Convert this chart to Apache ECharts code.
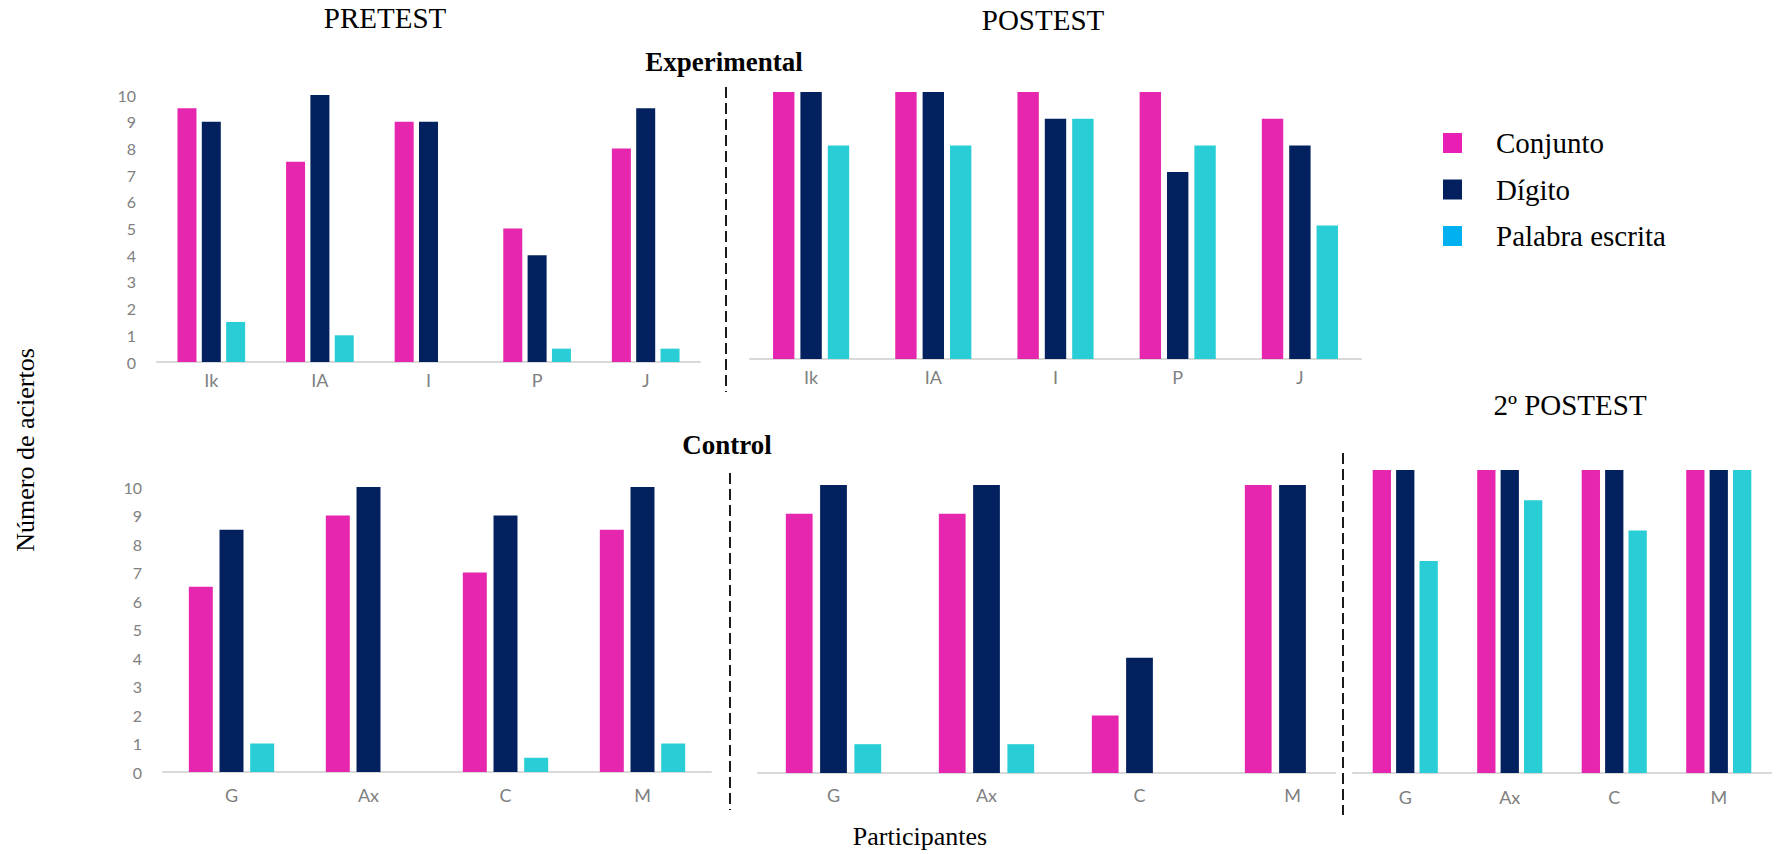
<!DOCTYPE html>
<html>
<head>
<meta charset="utf-8">
<script src="https://cdn.jsdelivr.net/npm/echarts@6/dist/echarts.min.js"></script>
<style>
html,body{margin:0;padding:0;background:#fff;}
#c{width:1783px;height:854px;}
</style>
</head>
<body>
<div id="c"></div>
<script>
// ---- data ----
const seriesNames = ['Conjunto', 'Dígito', 'Palabra escrita'];
const expCategories = ['Ik', 'IA', 'I', 'P', 'J'];
const ctlCategories = ['G', 'Ax', 'C', 'M'];

const preExpConjunto = [9.5, 7.5, 9, 5, 8];
const preExpDigito   = [9, 10, 9, 4, 9.5];
const preExpPalabra  = [1.5, 1, 0, 0.5, 0.5];

const postExpConjunto = [10, 10, 10, 10, 9];
const postExpDigito   = [10, 10, 9, 7, 8];
const postExpPalabra  = [8, 8, 9, 8, 5];

const preCtlConjunto = [6.5, 9, 7, 8.5];
const preCtlDigito   = [8.5, 10, 9, 10];
const preCtlPalabra  = [1, 0, 0.5, 1];

const postCtlConjunto = [9, 9, 2, 10];
const postCtlDigito   = [10, 10, 4, 10];
const postCtlPalabra  = [1, 1, 0, 0];

const post2CtlConjunto = [10, 10, 10, 10];
const post2CtlDigito   = [10, 10, 10, 10];
const post2CtlPalabra  = [7, 9, 8, 10];

// ---- styles ----
const colors = ['#E626AE', '#03205F', '#28CDD6'];
const legendColors = ['#E91EB4', '#031F5E', '#00B0F0'];
const serif = '"Liberation Serif", "Times New Roman", serif';
const sans = 'Lato, "Open Sans", sans-serif';

const grids = [
  {left: 157, top: 95, width: 543, height: 267},
  {left: 750, top: 92, width: 611, height: 267},
  {left: 163, top: 487, width: 548, height: 285},
  {left: 757, top: 485, width: 612, height: 288},
  {left: 1353, top: 470, width: 418, height: 303}
];
const panelCats = [expCategories, expCategories, ctlCategories, ctlCategories, ctlCategories];
const labelMargins = [10, 10, 15, 14, 16];
const showYLabels = [true, false, true, false, false];
const panelData = [
  [preExpConjunto, preExpDigito, preExpPalabra],
  [postExpConjunto, postExpDigito, postExpPalabra],
  [preCtlConjunto, preCtlDigito, preCtlPalabra],
  [postCtlConjunto, postCtlDigito, postCtlPalabra],
  [post2CtlConjunto, post2CtlDigito, post2CtlPalabra]
];

const xAxes = grids.map((g, i) => ({
  type: 'category',
  gridIndex: i,
  data: panelCats[i],
  axisLine: {show: i !== 3, lineStyle: {color: '#D9D9D9', width: 2}},
  axisTick: {show: false},
  axisLabel: {color: '#808080', fontFamily: sans, fontSize: 18, margin: labelMargins[i] - 1}
}));
const yAxes = grids.map((g, i) => ({
  type: 'value',
  gridIndex: i,
  min: 0, max: 10, interval: 1,
  axisLine: {show: false},
  axisTick: {show: false},
  splitLine: {show: false},
  axisLabel: {show: showYLabels[i], color: '#808080', fontFamily: sans, fontSize: 16, margin: 21}
}));

const series = [];
panelData.forEach((arrs, p) => {
  arrs.forEach((vals, s) => {
    series.push({
      type: 'bar',
      name: seriesNames[s],
      xAxisIndex: p,
      yAxisIndex: p,
      data: vals,
      barWidth: '17.5%',
      barGap: '28%',
      itemStyle: {color: colors[s]},
      emphasis: {disabled: true}
    });
  });
});

const dash = {stroke: '#1a1a1a', lineWidth: 2, lineDash: [11, 5]};
const txt = (text, x, y, size, bold, extra) => Object.assign({
  type: 'text', x: x, y: y,
  style: {text: text, fill: '#000', font: (bold ? 'bold ' : '') + size + 'px ' + serif,
          textAlign: 'center', textVerticalAlign: 'middle'}
}, extra || {});

const option = {
  animation: false,
  backgroundColor: '#fff',
  grid: grids,
  xAxis: xAxes,
  yAxis: yAxes,
  series: series,
  legend: {
    orient: 'vertical',
    left: 1443, top: 128.5,
    padding: 0,
    itemWidth: 19, itemHeight: 20, itemGap: 17.5,
    icon: 'rect',
    selectedMode: false,
    textStyle: {fontFamily: serif, fontSize: 29, color: '#000', lineHeight: 14, padding: [6, 0, 0, 29]},
    data: seriesNames.map((n, i) => ({name: n, itemStyle: {color: legendColors[i]}}))
  },
  graphic: [
    {type: 'line', shape: {x1: 726, y1: 87, x2: 726, y2: 392}, style: dash},
    {type: 'line', shape: {x1: 730, y1: 473, x2: 730, y2: 810}, style: dash},
    {type: 'line', shape: {x1: 1343, y1: 453, x2: 1343, y2: 815}, style: dash},
    {type: 'line', shape: {x1: 757, y1: 773, x2: 1336, y2: 773}, style: {stroke: '#D9D9D9', lineWidth: 2}},
    txt('PRETEST', 385, 18, 29, false),
    txt('POSTEST', 1043, 20, 29, false),
    txt('Experimental', 724, 62, 27, true),
    txt('Control', 727, 445, 27, true),
    txt('2º POSTEST', 1570, 405, 29, false),
    txt('Participantes', 920, 836, 26, false),
    txt('Número de aciertos', 25, 450, 26, false, {rotation: Math.PI / 2})
  ]
};

const chart = echarts.init(document.getElementById('c'), null, {renderer: 'svg'});
chart.setOption(option);
</script>
</body>
</html>
